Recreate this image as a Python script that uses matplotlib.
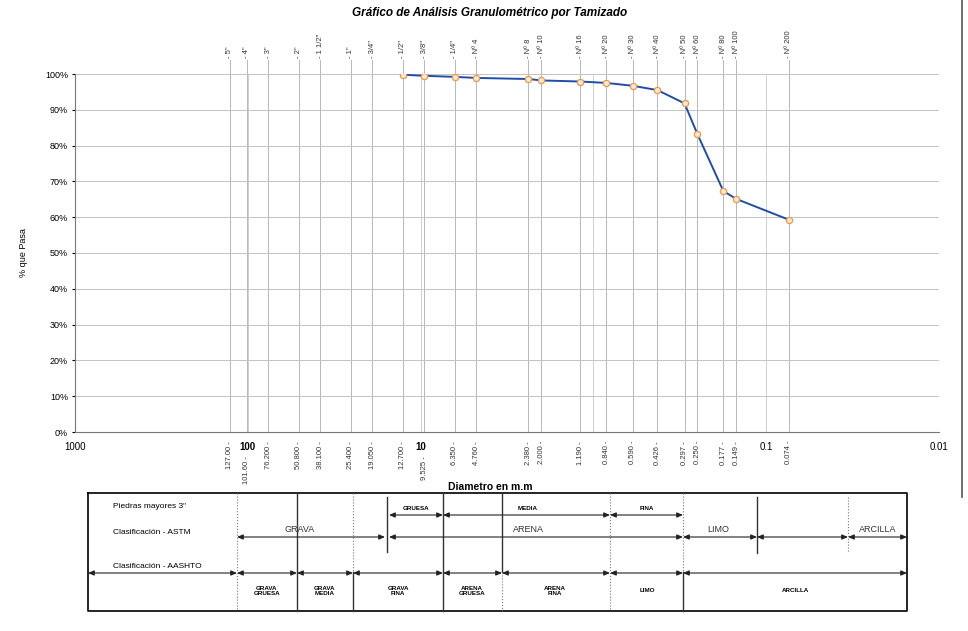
import matplotlib
matplotlib.use('Agg')
import matplotlib.pyplot as plt

plt.rcParams['font.family'] = ['Liberation Sans', 'DejaVu Sans']

# tamices
sieve_names = ['5"', '4"', '3"', '2"', '1 1/2"', '1"', '3/4"', '1/2"', '3/8"', '1/4"',
               'Nº 4', 'Nº 8', 'Nº 10', 'Nº 16', 'Nº 20', 'Nº 30', 'Nº 40', 'Nº 50',
               'Nº 60', 'Nº 80', 'Nº 100', 'Nº 200']
sieve_mm = [127.0, 101.6, 76.2, 50.8, 38.1, 25.4, 19.05, 12.7, 9.525, 6.35,
            4.76, 2.38, 2.0, 1.19, 0.84, 0.59, 0.426, 0.297,
            0.25, 0.177, 0.149, 0.074]
sieve_labels = ['127.00', '101.60', '76.200', '50.800', '38.100', '25.400', '19.050',
                '12.700', '9.525', '6.350', '4.760', '2.380', '2.000', '1.190',
                '0.840', '0.590', '0.426', '0.297', '0.250', '0.177', '0.149', '0.074']

# curva granulometrica (desde 1/2")
curve_mm = sieve_mm[7:]
passing = [99.8, 99.5, 99.2, 98.9, 98.6, 98.2, 97.9, 97.5, 96.7, 95.5,
           91.8, 83.2, 67.3, 65.1, 59.3]

decades = [1000, 100, 10, 0.1, 0.01]
decade_labels = ['1000', '100', '10', '0.1', '0.01']

W, H = 968, 631
fig = plt.figure(figsize=(9.68, 6.31), dpi=100)
ax = fig.add_axes([75 / W, 1 - 432 / H, 864 / W, 358 / H])

ax.set_xscale('log')
ax.set_xlim(1000, 0.01)
ax.set_ylim(0, 100)

ax.set_yticks(range(0, 101, 10))
ax.set_yticklabels([f'{v}%' for v in range(0, 101, 10)], fontsize=6.5)
ax.yaxis.grid(True, color='#c4c4c4', lw=0.7)
ax.set_axisbelow(True)
ax.tick_params(axis='y', length=2, pad=3)
ax.set_ylabel('% que Pasa', fontsize=6.5, labelpad=12)

ax.set_xticks([])
ax.xaxis.set_minor_locator(matplotlib.ticker.NullLocator())
for s in ['top', 'right']:
    ax.spines[s].set_visible(False)
ax.spines['left'].set_color('#777777')
ax.spines['bottom'].set_color('#777777')

for d in [100, 10, 1, 0.1]:
    ax.axvline(d, color='#d0d0d0', lw=0.7, zorder=0)
for s in sieve_mm:
    ax.axvline(s, ymin=0, ymax=1.04, color='#b8b8b8', lw=0.7, zorder=0, clip_on=False)

ax.plot(curve_mm, passing, color='#1f4ea8', lw=1.4, marker='o', ms=4.5,
        mfc='#fde6cc', mec='#e89a50', mew=0.9, zorder=3)

tr = ax.get_xaxis_transform()
for s, n in zip(sieve_mm, sieve_names):
    ax.text(s, 1.045, '- ' + n, transform=tr, rotation=90, ha='center', va='bottom',
            fontsize=5.5, color='#333333')
for s, l in zip(sieve_mm, sieve_labels):
    # las etiquetas junto a 100 y 10 van mas abajo
    yy = -0.068 if l in ('101.60', '9.525') else -0.025
    ax.text(s, yy, l + ' -', transform=tr, rotation=90, ha='center', va='top',
            fontsize=5.5, color='#333333')
for d, l in zip(decades, decade_labels):
    ax.text(d, -0.042, l, transform=tr, ha='center', va='center', fontsize=7,
            fontweight='bold' if l in ('100', '10') else 'normal')

fig.text(490 / W, 1 - 487 / H, 'Diametro en m.m', ha='center', va='center',
         fontsize=7.5, fontweight='bold')
fig.text(490 / W, 1 - 13 / H, 'Gráfico de Análisis Granulométrico por Tamizado',
         ha='center', va='center', fontsize=8.5, fontweight='bold', style='italic')

# cuadro de clasificacion (coordenadas en pixeles)
tb = fig.add_axes([0, 0, 1, 1], zorder=-1)
tb.set_xlim(0, W)
tb.set_ylim(H, 0)
tb.axis('off')

tb.plot([962, 962], [0, 497], color='#555555', lw=1.2)
tb.plot([88, 907, 907, 88, 88], [493, 493, 611, 611, 493], color='black', lw=1.2)


def vline(x, y1, y2, dotted=False):
    tb.plot([x, x], [y1, y2], color='#333333' if not dotted else '#777777',
            lw=1.0 if not dotted else 0.8, ls=':' if dotted else '-')


def arrow(x1, x2, y):
    tb.annotate('', xy=(x2, y), xytext=(x1, y),
                arrowprops=dict(arrowstyle='<|-|>,head_length=0.35,head_width=0.15',
                                color='#222222', lw=0.8, shrinkA=0, shrinkB=0))


vline(237, 493, 611, True)
vline(297, 493, 611)
vline(353, 493, 572, True)
vline(353, 572, 611)
vline(387, 497, 552)
vline(443, 493, 611)
vline(502, 493, 572)
vline(502, 572, 611, True)
vline(610, 493, 611, True)
vline(683, 493, 572, True)
vline(683, 572, 611)
vline(757, 497, 553)
vline(848, 497, 553, True)

for x1, x2 in [(88, 237), (237, 297), (297, 353), (353, 443), (443, 502),
               (502, 610), (610, 683), (683, 907)]:
    arrow(x1, x2, 573)
for x1, x2 in [(237, 385), (389, 683), (683, 757), (757, 848), (848, 907)]:
    arrow(x1, x2, 537)
for x1, x2 in [(389, 443), (443, 610), (610, 683)]:
    arrow(x1, x2, 515)

tb.text(113, 507, 'Piedras mayores 3"', fontsize=6, va='center')
tb.text(113, 533, 'Clasificación - ASTM', fontsize=6, va='center')
tb.text(113, 566, 'Clasificación - AASHTO', fontsize=6, va='center')

for x, t in [(300, 'GRAVA'), (528, 'ARENA'), (718, 'LIMO'), (878, 'ARCILLA')]:
    tb.text(x, 530, t, fontsize=6.5, ha='center', va='center', color='#333333')
for x, t in [(416, 'GRUESA'), (528, 'MEDIA'), (647, 'FINA')]:
    tb.text(x, 509, t, fontsize=4.5, ha='center', va='center', fontweight='bold')
for x, t in [(267, 'GRAVA\nGRUESA'), (325, 'GRAVA\nMEDIA'), (398, 'GRAVA\nFINA'),
             (472, 'ARENA\nGRUESA'), (555, 'ARENA\nFINA'), (647, 'LIMO'),
             (795, 'ARCILLA')]:
    tb.text(x, 591, t, fontsize=4.5, ha='center', va='center', fontweight='bold',
            linespacing=1.1)

fig.savefig('out.png', dpi=100)
